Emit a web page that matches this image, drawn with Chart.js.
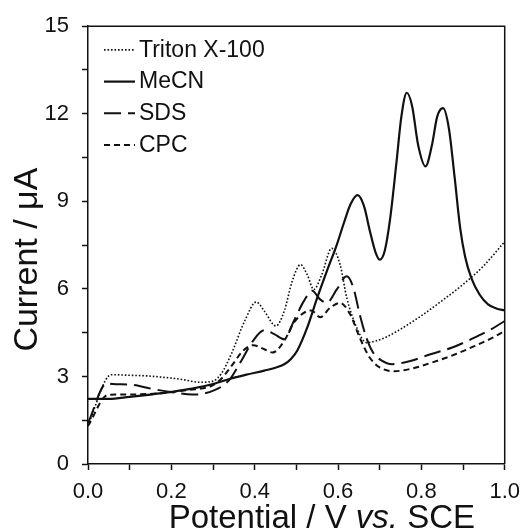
<!DOCTYPE html>
<html>
<head>
<meta charset="utf-8">
<script src="https://cdn.jsdelivr.net/npm/chart.js@4.4.1/dist/chart.umd.min.js"></script>
<style>
  html, body { margin: 0; padding: 0; background: #fff; }
  #wrap { width: 529px; height: 531px; }
</style>
</head>
<body>
<div id="wrap"><canvas id="cv" width="529" height="531"></canvas></div>
<script>
// ---- data (potential in V vs. SCE, current in µA) ----
const tritonX = [0, 0.056, 0.10, 0.14, 0.18, 0.22, 0.27, 0.30, 0.32, 0.344, 0.376, 0.404, 0.423, 0.451, 0.471, 0.49, 0.51, 0.526, 0.542, 0.561, 0.585, 0.605, 0.621, 0.645, 0.668, 0.692, 0.716, 0.75, 0.80, 0.85, 0.90, 0.95, 1.0];
const tritonY = [1.33, 3.06, 3.04, 3.02, 2.97, 2.91, 2.80, 2.84, 3.10, 3.77, 4.90, 5.55, 5.24, 4.73, 5.24, 6.26, 6.83, 6.49, 5.98, 6.49, 7.39, 6.83, 5.69, 4.67, 4.16, 4.22, 4.35, 4.62, 5.08, 5.60, 6.15, 6.80, 7.62];

const mecnX = [0, 0.05, 0.10, 0.15, 0.20, 0.25, 0.30, 0.344, 0.38, 0.423, 0.45, 0.471, 0.487, 0.502, 0.526, 0.55, 0.573, 0.597, 0.615, 0.63, 0.647, 0.662, 0.677, 0.69, 0.70, 0.712, 0.725, 0.74, 0.752, 0.765, 0.778, 0.792, 0.81, 0.825, 0.838, 0.852, 0.866, 0.88, 0.893, 0.905, 0.92, 0.94, 0.96, 0.98, 1.0];
const mecnY = [2.23, 2.23, 2.30, 2.38, 2.47, 2.58, 2.74, 2.93, 3.06, 3.20, 3.30, 3.42, 3.60, 3.88, 4.67, 5.69, 6.60, 7.51, 8.30, 8.90, 9.21, 8.85, 7.95, 7.25, 7.00, 7.30, 8.40, 10.3, 11.9, 12.72, 12.25, 10.95, 10.2, 10.9, 11.9, 12.19, 11.5, 9.8, 8.1, 7.1, 6.37, 5.80, 5.47, 5.33, 5.26];

const sdsX = [0, 0.045, 0.06, 0.107, 0.155, 0.202, 0.25, 0.273, 0.305, 0.329, 0.344, 0.368, 0.396, 0.423, 0.447, 0.471, 0.494, 0.518, 0.538, 0.557, 0.573, 0.597, 0.621, 0.637, 0.652, 0.668, 0.684, 0.704, 0.73, 0.771, 0.82, 0.874, 0.92, 0.968, 1.0];
const sdsY = [1.40, 2.76, 2.74, 2.71, 2.57, 2.46, 2.38, 2.40, 2.54, 2.74, 2.97, 3.54, 4.22, 4.58, 4.45, 4.27, 4.90, 5.58, 5.94, 5.64, 5.52, 5.98, 6.43, 6.03, 5.13, 4.33, 3.82, 3.55, 3.42, 3.52, 3.75, 3.99, 4.28, 4.62, 4.90];

const cpcX = [0, 0.048, 0.10, 0.178, 0.242, 0.297, 0.32, 0.344, 0.372, 0.396, 0.423, 0.443, 0.471, 0.494, 0.518, 0.536, 0.557, 0.581, 0.605, 0.629, 0.652, 0.676, 0.70, 0.735, 0.78, 0.826, 0.88, 0.929, 0.97, 1.0];
const cpcY = [1.30, 2.37, 2.38, 2.43, 2.54, 2.68, 2.92, 3.35, 3.88, 4.07, 3.93, 3.82, 4.22, 4.84, 5.18, 5.26, 5.03, 5.35, 5.52, 5.13, 4.33, 3.65, 3.31, 3.18, 3.28, 3.48, 3.75, 4.05, 4.32, 4.56];

const seriesLabels = ['Triton X-100', 'MeCN', 'SDS', 'CPC'];

// ---- look ----
const FONT = 'Arial, "Liberation Sans", sans-serif';
const INK = '#111';

const STYLE = [
  { dash: [1.6, 1.9], width: 1.6 },   // dotted
  { dash: [],         width: 2.2 },   // solid
  { dash: [17, 7],    width: 2   },   // long dash
  { dash: [6, 4],     width: 2   },   // short dash
];

function pts(xs, ys) { return xs.map((x, i) => ({ x, y: ys[i] })); }

const raw = [[tritonX, tritonY], [mecnX, mecnY], [sdsX, sdsY], [cpcX, cpcY]];
const datasets = raw.map(([xs, ys], i) => ({
  label: seriesLabels[i],
  data: pts(xs, ys),
  borderColor: INK,
  borderWidth: STYLE[i].width,
  borderDash: STYLE[i].dash,
  pointRadius: 0,
  cubicInterpolationMode: 'monotone',
  fill: false,
}));

// frame, legend and axis titles
const decor = {
  id: 'decor',
  afterDraw(chart) {
    const { ctx, chartArea: a } = chart;
    ctx.save();

    // top + right frame
    ctx.strokeStyle = INK;
    ctx.lineWidth = 1.5;
    ctx.beginPath();
    ctx.moveTo(a.left, a.top);
    ctx.lineTo(a.right, a.top);
    ctx.lineTo(a.right, a.bottom);
    ctx.stroke();

    // legend, top-left inside the frame
    ctx.font = '23px ' + FONT;
    ctx.textBaseline = 'middle';
    ctx.textAlign = 'left';
    ctx.fillStyle = INK;
    chart.data.datasets.forEach((ds, i) => {
      const y = a.top + 23.7 + i * 31.7;
      ctx.lineWidth = ds.borderWidth;
      ctx.setLineDash(ds.borderDash);
      ctx.beginPath();
      ctx.moveTo(a.left + 16, y);
      ctx.lineTo(a.left + 47, y);
      ctx.stroke();
      ctx.setLineDash([]);
      ctx.fillText(ds.label, a.left + 51, y + 0.5);
    });

    // x title with italic "vs."
    const parts = [['Potential / V ', ''], ['vs.', 'italic '], [' SCE', '']];
    const size = 33;
    let total = 0;
    parts.forEach(p => { ctx.font = p[1] + size + 'px ' + FONT; total += ctx.measureText(p[0]).width; });
    let x = (a.left + a.right) / 2 + 25.5 - total / 2;
    ctx.textBaseline = 'alphabetic';
    parts.forEach(p => {
      ctx.font = p[1] + size + 'px ' + FONT;
      ctx.fillText(p[0], x, 528);
      x += ctx.measureText(p[0]).width;
    });

    // y title
    ctx.translate(37, (a.top + a.bottom) / 2 + 14.5);
    ctx.rotate(-Math.PI / 2);
    ctx.textAlign = 'center';
    ctx.font = '34px ' + FONT;
    ctx.fillText('Current / μA', 0, 0);

    ctx.restore();
  }
};

const tickFont = { family: FONT, size: 22 };

new Chart(document.getElementById('cv'), {
  type: 'line',
  data: { datasets },
  plugins: [decor],
  options: {
    responsive: false,
    animation: false,
    devicePixelRatio: 1,
    layout: { padding: { top: 23, right: 19, left: 0, bottom: 0 } },
    plugins: { legend: { display: false }, tooltip: { enabled: false } },
    scales: {
      x: {
        type: 'linear',
        min: 0, max: 1,
        afterFit: s => { s.height = 67; },
        ticks: {
          stepSize: 0.1, autoSkip: false, maxRotation: 0,
          padding: 9, color: INK, font: tickFont,
          callback: v => (Math.round(v * 10) % 2 === 0 ? v.toFixed(1) : ''),
        },
        grid: { drawOnChartArea: false, drawTicks: true, tickLength: 6, tickColor: INK, tickWidth: 1.5 },
        border: { display: true, color: INK, width: 1.5 },
      },
      y: {
        min: 0, max: 15,
        afterFit: s => { s.width = 88; },
        ticks: {
          stepSize: 1.5, autoSkip: false,
          padding: 13, color: INK, font: tickFont,
          callback: v => (Math.round(v / 1.5) % 2 === 0 ? String(Math.round(v)) : ''),
        },
        grid: { drawOnChartArea: false, drawTicks: true, tickLength: 6, tickColor: INK, tickWidth: 1.5 },
        border: { display: true, color: INK, width: 1.5 },
      },
    },
  },
});
</script>
</body>
</html>
